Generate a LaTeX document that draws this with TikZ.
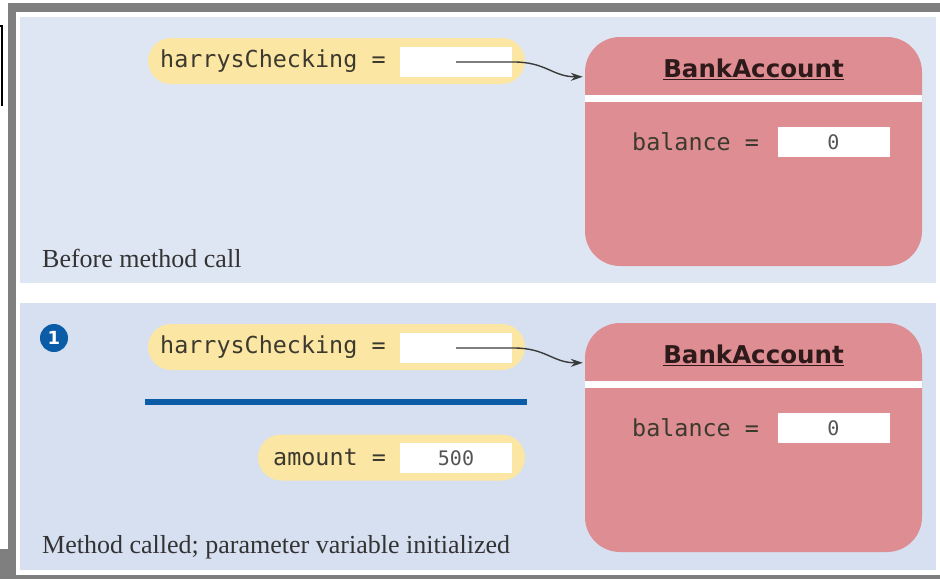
\documentclass[tikz,border=0pt]{standalone}
\usepackage{fontspec}
\setmainfont{Liberation Serif}
\newfontfamily\codefont{DejaVu Sans Mono}
\newfontfamily\headfont{DejaVu Sans}
\usetikzlibrary{arrows.meta}

\definecolor{framegray}{HTML}{7F7F7F}
\definecolor{paneltop}{HTML}{DFE6F3}
\definecolor{panelbot}{HTML}{D6E0F0}
\definecolor{pillyellow}{HTML}{FBE6A4}
\definecolor{acctpink}{HTML}{DE8D92}
\definecolor{codetext}{HTML}{3C3A2E}
\definecolor{headtext}{HTML}{2E1A1A}
\definecolor{numgray}{HTML}{555555}
\definecolor{captext}{HTML}{333333}
\definecolor{arrowgray}{HTML}{3A3A3A}
\definecolor{stepblue}{HTML}{0B5CA6}

\tikzset{
  pill/.style={rectangle,rounded corners=23pt,fill=pillyellow,minimum height=46pt,inner sep=0pt},
  valbox/.style={rectangle,fill=white,minimum width=112pt,minimum height=30pt,inner sep=0pt,
    font=\codefont\fontsize{20}{20}\selectfont,text=numgray},
  code/.style={anchor=base west,inner sep=0pt,font=\codefont\fontsize{23.4}{24}\selectfont,text=codetext},
  acct/.style={rectangle,rounded corners=35pt,fill=acctpink,minimum width=337pt,minimum height=229pt,inner sep=0pt},
  head/.style={anchor=base,inner sep=0pt,font=\headfont\bfseries\fontsize{24.5}{25}\selectfont,text=headtext},
  caption/.style={anchor=base west,inner sep=0pt,font=\fontsize{26}{27}\selectfont,text=captext},
  ref/.style={draw=arrowgray,line width=1.4pt,-{Stealth[length=12pt,width=8pt]}}
}

\begin{document}
\begin{tikzpicture}[x=1pt,y=-1pt]
\useasboundingbox (0,0) rectangle (940,579);
% frame and the two panels
\fill[framegray] (8,3) rectangle (940,579);
\fill[white] (16,12) rectangle (940,575);
\fill[framegray] (0,549) rectangle (8,579);
\draw[line width=2.5pt] (0,26) -- (2,26) -- (2,106);
\fill[paneltop] (20,17) rectangle (936,283);
\fill[panelbot] (20,303) rectangle (936,570);

% before method call
\node[pill,minimum width=377pt] (p1) at (336.5,61) {};
\node[code] (hc1) at (160,67) {harrysChecking =};
\node[valbox] (hv1) at (456,62) {};
\node[acct] (ba1) at (753.5,151.5) {};
\node[head] (t1) at (753.5,77) {\underline{BankAccount}};
\node[code] (bl1) at (632,150) {balance =};
\node[valbox] (bv1) at (833.5,142) {0};
\node[caption] (c1) at (42,267) {Before method call};

% method called
\node[circle,fill=stepblue,minimum size=28pt,inner sep=0pt,text=white,
  font=\headfont\bfseries\fontsize{18}{18}\selectfont] (s1) at (54,338) {1};
\node[pill,minimum width=377pt] (p2) at (336.5,347) {};
\node[code] (hc2) at (160,353) {harrysChecking =};
\node[valbox] (hv2) at (456,348) {};
\draw[stepblue,line width=6pt] (145,401.5) -- (527,401.5);
\node[pill,minimum width=267pt] (p3) at (391.5,457.5) {};
\node[code] (am) at (273,465) {amount =};
\node[valbox] (av) at (456,458) {500};
\node[acct] (ba2) at (753.5,437.5) {};
\node[head] (t2) at (753.5,363) {\underline{BankAccount}};
\node[code] (bl2) at (632,436) {balance =};
\node[valbox] (bv2) at (833.5,428) {0};
\node[caption] (c2) at (42,553) {Method called; parameter variable initialized};

\foreach \b in {ba1,ba2}
\fill[white] ([yshift=-58pt]\b.north west) rectangle ([yshift=-65pt]\b.north east);
\foreach \from/\to in {hv1/ba1,hv2/ba2}
\draw[ref] (\from.center) -- ++(58,0) .. controls +(32,0) and +(-30,0) .. ([shift={(-2pt,-40pt)}]\to.north west);
\end{tikzpicture}
\end{document}
